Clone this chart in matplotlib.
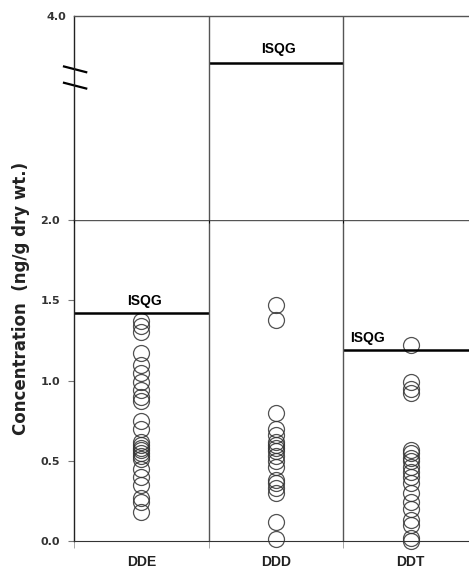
import matplotlib as mpl
import matplotlib.pyplot as plt

mpl.use('Agg')

compostos = ["DDE", "DDD", "DDT"]

# concentracoes medidas (ng/g peso seco)
dde = [1.37, 1.34, 1.30, 1.17, 1.10, 1.05, 0.99, 0.94, 0.90, 0.87, 0.75, 0.70,
       0.62, 0.60, 0.58, 0.57, 0.55, 0.53, 0.51, 0.45, 0.40, 0.35, 0.27, 0.24, 0.18]
ddd = [1.47, 1.38, 0.80, 0.70, 0.66, 0.62, 0.60, 0.58, 0.56, 0.53, 0.50,
       0.46, 0.38, 0.36, 0.33, 0.30, 0.12, 0.01]
ddt = [1.22, 0.99, 0.95, 0.92, 0.57, 0.55, 0.52, 0.50, 0.46, 0.43, 0.40,
       0.36, 0.30, 0.24, 0.20, 0.13, 0.10, 0.02, 0.0]
isqg = [1.42, 3.54, 1.19]

cinza = '#555555'

fig = plt.figure(figsize=(4.69, 5.74), dpi=100)
ax = fig.add_axes([0.158, 0.0575, 0.861, 0.559])
axTopo = fig.add_axes([0.158, 0.6165, 0.861, 0.3555], sharex=ax)

for i, valores in enumerate([dde, ddd, ddt]):
    ax.plot([i] * len(valores), valores, 'o', markersize=11.5, markerfacecolor='none',
            markeredgecolor='#333333', markeredgewidth=0.9, alpha=0.85, clip_on=False)

ax.set_ylim(0, 2.0)
axTopo.set_ylim(2.0, 4.0)
ax.set_xlim(-0.5, 2.5)

# linhas ISQG e seus rotulos
for i, v in enumerate(isqg):
    alvo = axTopo if v > 2 else ax
    alvo.hlines(v, i - 0.5, i + 0.5, colors='black', linewidth=1.8)
    if i == 2:
        alvo.annotate("ISQG", (i - 0.45, v), xytext=(0, 4), textcoords='offset points',
                      ha='left', va='bottom', fontsize=10, fontweight='bold',
                      family='Liberation Sans')
    else:
        alvo.annotate("ISQG", (i + 0.02, v), xytext=(0, 5 if v > 2 else 4),
                      textcoords='offset points', ha='center', va='bottom',
                      fontsize=10, fontweight='bold', family='Liberation Sans')

for a in (ax, axTopo):
    for xv in (0.5, 1.5, 2.5):
        a.axvline(xv, color=cinza, linewidth=1.0)
    for s in ('top', 'right'):
        a.spines[s].set_color(cinza)
        a.spines[s].set_linewidth(1.0)
    a.spines['left'].set_color('#222222')
    a.spines['left'].set_linewidth(1.0)

ax.spines['top'].set_color(cinza)
ax.spines['bottom'].set_color('#333333')
axTopo.spines['bottom'].set_visible(False)

ax.set_yticks([0.0, 0.5, 1.0, 1.5, 2.0])
ax.set_yticklabels(['0.0', '0.5', '1.0', '1.5', '2.0'])
axTopo.set_yticks([4.0])
axTopo.set_yticklabels(['4.0'])
for a in (ax, axTopo):
    a.tick_params(axis='y', direction='out', length=4, width=0.8, color='#777777',
                  labelsize=8, labelcolor='#333333', pad=6)
    for t in a.get_yticklabels():
        t.set_fontweight('bold')
axTopo.tick_params(axis='y', length=0)
axTopo.tick_params(axis='x', bottom=False, labelbottom=False)

ax.set_xticks([0, 1, 2])
ax.set_xticklabels(compostos, fontsize=10, fontweight='bold', color='#222222',
                   family='Liberation Sans')
ax.tick_params(axis='x', length=0, pad=10)
ax.set_xticks([-0.5, 0.5, 1.5], minor=True)
ax.tick_params(axis='x', which='minor', direction='out', length=5, color='#999999')

# marca de quebra do eixo
for y0 in (0.745, 0.665):
    axTopo.plot([-0.025, 0.03], [y0 + 0.008, y0 - 0.02], transform=axTopo.transAxes,
                color='black', linewidth=1.6, clip_on=False)

fig.text(0.045, 0.48, "Concentration  (ng/g dry wt.)", rotation=90, ha='center',
         va='center', fontsize=12, fontweight='bold', color='#222222')

plt.savefig('out.png', dpi=100)
